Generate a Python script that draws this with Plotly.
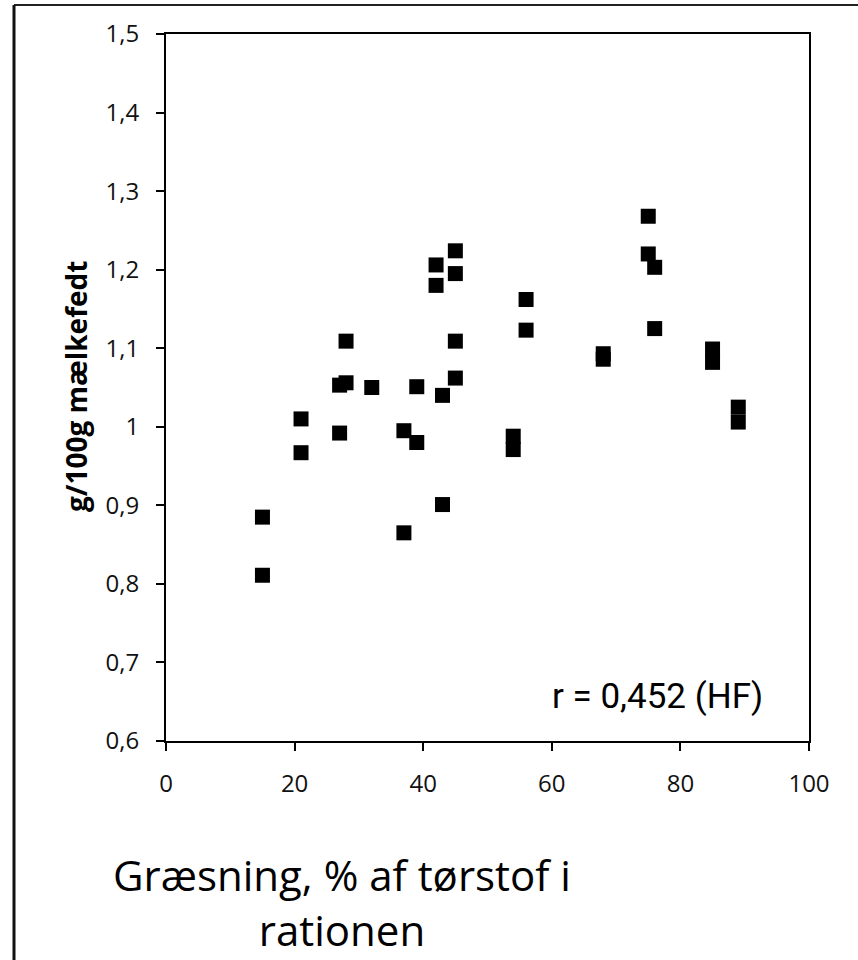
import plotly.graph_objects as go

# Data
grazing_pct = [15, 15, 21, 21, 27, 27, 28, 28, 32, 37, 37, 39, 39, 42, 42, 43, 43,
               45, 45, 45, 45, 54, 54, 56, 56, 68, 68, 75, 75, 76, 76, 85, 85, 89, 89]
fat_g100g = [0.885, 0.811, 1.010, 0.967, 0.992, 1.053, 1.056, 1.109, 1.050, 0.995, 0.865,
             1.051, 0.980, 1.206, 1.180, 1.040, 0.901, 1.224, 1.195, 1.109, 1.062,
             0.988, 0.971, 1.162, 1.123, 1.093, 1.086, 1.268, 1.220, 1.203, 1.125,
             1.099, 1.082, 1.025, 1.006]

y_tickvals = [0.6, 0.7, 0.8, 0.9, 1.0, 1.1, 1.2, 1.3, 1.4, 1.5]
y_ticktext = ["0,6", "0,7", "0,8", "0,9", "1", "1,1", "1,2", "1,3", "1,4", "1,5"]
x_tickvals = [0, 20, 40, 60, 80, 100]
x_ticktext = ["0", "20", "40", "60", "80", "100"]

x_title = "Græsning, % af tørstof i<br>rationen"
y_title = "g/100g mælkefedt"
r_text = "r = 0,452 (HF)"

W, H = 858, 960
L, R, T, B = 166, 49, 34, 219
pw, ph = W - L - R, H - T - B


def px_x(p):
    return (p - L) / pw


def px_y(p):
    return (H - B - p) / ph


fig = go.Figure()
fig.add_trace(go.Scatter(
    x=grazing_pct, y=fat_g100g, mode="markers",
    marker=dict(symbol="square", size=15, color="black", line=dict(width=0)),
    showlegend=False, hoverinfo="x+y",
))

tick_font = dict(family="Open Sans", size=24, color="#111111")
fig.update_xaxes(
    range=[0, 100], tickvals=x_tickvals, ticktext=x_ticktext,
    showline=True, linecolor="black", linewidth=2, mirror=True,
    ticks="outside", ticklen=8, tickwidth=2, tickcolor="black",
    showgrid=False, zeroline=False, tickfont=tick_font, ticklabelstandoff=12,
)
fig.update_yaxes(
    range=[0.6, 1.5], tickvals=y_tickvals, ticktext=y_ticktext,
    showline=True, linecolor="black", linewidth=2, mirror=True,
    ticks="outside", ticklen=8, tickwidth=2, tickcolor="black",
    showgrid=False, zeroline=False, tickfont=tick_font, ticklabelstandoff=12,
)

fig.update_layout(
    width=W, height=H,
    margin=dict(l=L, r=R, t=T, b=B),
    paper_bgcolor="white", plot_bgcolor="white",
    annotations=[
        dict(text=r_text, xref="paper", yref="paper", x=px_x(657), y=px_y(696),
             xanchor="center", yanchor="middle", showarrow=False,
             font=dict(family="Roboto", size=35, color="black")),
        dict(text="<b>" + y_title + "</b>", xref="paper", yref="paper",
             x=px_x(76), y=px_y(387), xanchor="center", yanchor="middle",
             textangle=-90, showarrow=False,
             font=dict(family="Open Sans", size=28, color="black")),
        dict(text=x_title, xref="paper", yref="paper", x=px_x(342), y=px_y(902),
             xanchor="center", yanchor="middle", align="center", showarrow=False,
             font=dict(family="Open Sans", size=42, color="black")),
    ],
    shapes=[
        dict(type="line", xref="paper", yref="paper",
             x0=px_x(14), x1=px_x(860), y0=px_y(5), y1=px_y(5),
             line=dict(color="#222222", width=2)),
        dict(type="line", xref="paper", yref="paper",
             x0=px_x(14), x1=px_x(14), y0=px_y(5), y1=px_y(962),
             line=dict(color="#111111", width=3)),
    ],
)

fig.write_html("out.html")
